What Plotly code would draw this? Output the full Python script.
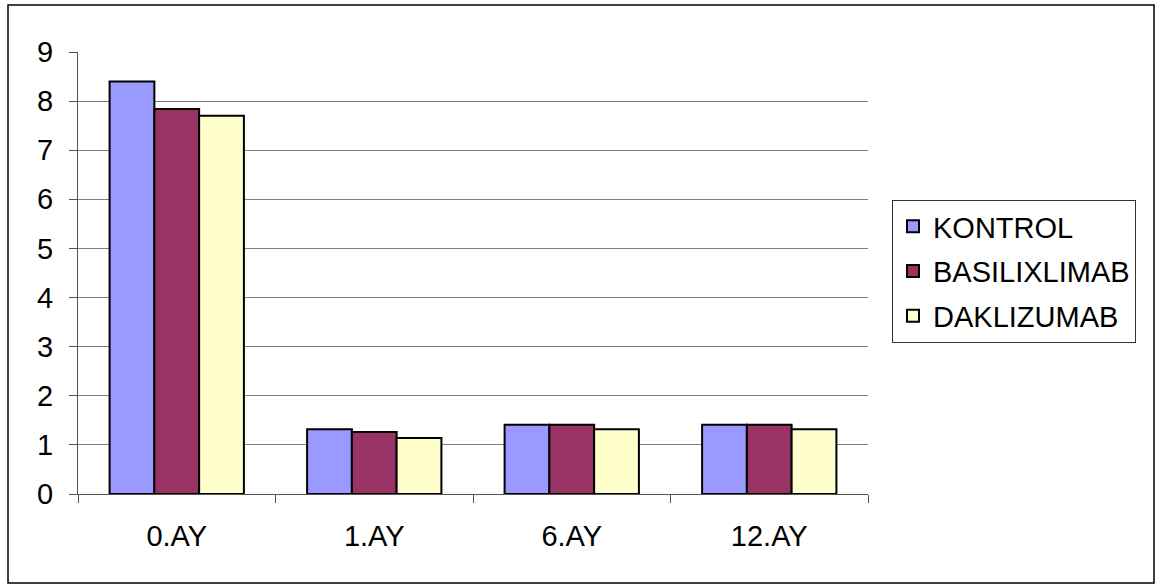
import plotly.graph_objects as go

categories = ["0.AY", "1.AY", "6.AY", "12.AY"]
kontrol = [8.40, 1.32, 1.41, 1.41]
basilixlimab = [7.84, 1.26, 1.41, 1.41]
daklizumab = [7.70, 1.14, 1.32, 1.32]

series_names = ["KONTROL", "BASILIXLIMAB", "DAKLIZUMAB"]
series_colors = ["#9999FF", "#993366", "#FFFFCC"]
y_ticks = [0, 1, 2, 3, 4, 5, 6, 7, 8, 9]

FONT = "Liberation Sans, Arial, sans-serif"
FS = 29

fig = go.Figure()
for name, vals, col in zip(series_names, [kontrol, basilixlimab, daklizumab], series_colors):
    fig.add_trace(go.Bar(
        x=categories, y=vals, name=name, legendgroup=name,
        marker=dict(color=col, line=dict(color="black", width=2)),
    ))

# plot area: x 78..868, y 52..494
L, R, T, B = 78, 868, 52, 494
W, H = 1161, 588
pw, ph = R - L, B - T

def px(x):
    return (x - L) / pw

def py(y):
    return (B - y) / ph

fig.update_layout(
    width=W, height=H,
    margin=dict(l=L, r=W - R, t=T, b=H - B, pad=0),
    paper_bgcolor="white", plot_bgcolor="white",
    font=dict(family=FONT, size=FS, color="black"),
    barmode="group", bargap=0.32, bargroupgap=0,
    showlegend=True,
    legend=dict(
        x=px(892), y=py(200), xanchor="left", yanchor="top",
        bordercolor="#333333", borderwidth=1, bgcolor="white",
        font=dict(family=FONT, size=FS, color="black"),
        tracegroupgap=4, itemwidth=30,
    ),
    xaxis=dict(
        type="category", showgrid=False, showline=True, linecolor="#555555", linewidth=1,
        ticks="outside", ticklen=8, tickcolor="#555555", tickson="boundaries",
        tickfont=dict(family=FONT, size=FS), ticklabelstandoff=16,
    ),
    yaxis=dict(
        range=[0, 9], tickvals=y_ticks, showgrid=True, gridcolor="#808080", gridwidth=1,
        showline=True, linecolor="#555555", linewidth=1, ticks="outside", ticklen=8,
        tickcolor="#555555", tickfont=dict(family=FONT, size=FS), zeroline=False,
        ticklabelstandoff=10,
    ),
    shapes=[dict(
        type="rect", xref="paper", yref="paper",
        x0=px(8), x1=px(1154), y0=py(583), y1=py(5),
        line=dict(color="black", width=1.5), fillcolor="rgba(0,0,0,0)", layer="below",
    )],
)

fig.write_html("out.html")
